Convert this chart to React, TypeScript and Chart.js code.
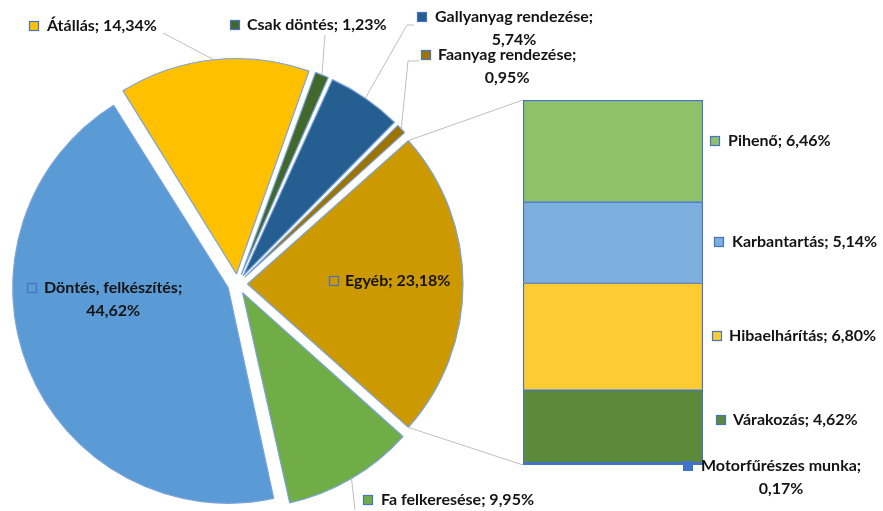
import React, { useEffect, useRef } from "react";
import { Chart, registerables } from "chart.js";

Chart.register(...registerables);

// ---- data ----
const pieCategories = [
  "Egyéb",
  "Fa felkeresése",
  "Döntés, felkészítés",
  "Átállás",
  "Csak döntés",
  "Gallyanyag rendezése",
  "Faanyag rendezése",
];
const pieValues = [23.18, 9.95, 44.62, 14.34, 1.23, 5.74, 0.95];

const barCategories = [
  "Motorfűrészes munka",
  "Várakozás",
  "Hibaelhárítás",
  "Karbantartás",
  "Pihenő",
];
const barValues = [0.17, 4.62, 6.8, 5.14, 6.46];

// ---- styles ----
const pieColors = ["#CC9900", "#70AD47", "#5B9BD5", "#FFC000", "#43682B", "#255E91", "#9E7400"];
const barColors = ["#3F74C8", "#5A8A3A", "#FFCB33", "#7CAFDD", "#8FC16A"];

const W = 883;
const H = 511;
const FONT = "bold 16px Lato";
const TEXT_COLOR = "#141414";
const KEY_BORDER = "#4472C4";
const RADIUS = 215.5;
const EXPLODE = 10; // px each slice is pulled out

// label layout: square position, text start, line centre y, wrap to 2 lines
type LabelPos = { sx: number; sy: number; tx: number; ty: number; wrap: boolean; leader?: number[][] };
const pieLabelPos: LabelPos[] = [
  { sx: 329, sy: 276, tx: 345, ty: 281, wrap: false },
  { sx: 363, sy: 495, tx: 381, ty: 500, wrap: false, leader: [[355, 510]] },
  { sx: 27, sy: 283, tx: 44, ty: 288, wrap: true },
  { sx: 29, sy: 21, tx: 47, ty: 26, wrap: false, leader: [[163, 33]] },
  { sx: 230, sy: 20, tx: 247, ty: 25, wrap: false, leader: [[325, 35]] },
  { sx: 417, sy: 12, tx: 435, ty: 17, wrap: true, leader: [[407, 25], [414, 25]] },
  { sx: 421, sy: 50, tx: 438, ty: 55, wrap: true, leader: [[408, 61], [419, 61]] },
];
const barLabelPos: LabelPos[] = [
  { sx: 683, sy: 461, tx: 701, ty: 466, wrap: true },
  { sx: 716, sy: 415, tx: 733, ty: 420, wrap: false },
  { sx: 712, sy: 331, tx: 729, ty: 336, wrap: false },
  { sx: 714, sy: 237, tx: 732, ty: 242, wrap: false },
  { sx: 710, sy: 136, tx: 728, ty: 141, wrap: false },
];

const fmt = (v: number) => v.toFixed(2).replace(".", ",") + "%";

function drawLabel(ctx: CanvasRenderingContext2D, name: string, value: number, color: string, p: LabelPos, keyBorder: boolean) {
  ctx.save();
  ctx.fillStyle = color;
  ctx.fillRect(p.sx, p.sy, 10, 10);
  if (keyBorder) {
    ctx.strokeStyle = KEY_BORDER;
    ctx.lineWidth = 1.2;
    ctx.strokeRect(p.sx + 0.5, p.sy + 0.5, 9, 9);
  }
  ctx.font = FONT;
  ctx.fillStyle = TEXT_COLOR;
  ctx.textBaseline = "middle";
  ctx.textAlign = "left";
  if (p.wrap) {
    const l1 = name + ";";
    const w1 = ctx.measureText(l1).width;
    ctx.fillText(l1, p.tx, p.ty);
    ctx.textAlign = "center";
    ctx.fillText(fmt(value), p.tx + w1 / 2, p.ty + 23);
  } else {
    ctx.fillText(name + "; " + fmt(value), p.tx, p.ty);
  }
  ctx.restore();
}

export default function App() {
  const pieRef = useRef<HTMLCanvasElement>(null);
  const barRef = useRef<HTMLCanvasElement>(null);

  useEffect(() => {
    const total = pieValues.reduce((a, b) => a + b, 0);
    const rotation = 90 - (pieValues[0] / total) * 180;

    const pieLabelsPlugin = {
      id: "pieLabels",
      beforeDatasetsDraw(chart: any) {
        // keep every exploded slice at the same radius
        chart.getDatasetMeta(0).data.forEach((arc: any) => {
          const fix = 1 - Math.sin(Math.min(Math.PI, arc.circumference || 0));
          arc.outerRadius = RADIUS - EXPLODE * fix;
        });
      },
      afterDatasetsDraw(chart: any) {
        const ctx = chart.ctx as CanvasRenderingContext2D;
        const meta = chart.getDatasetMeta(0);
        meta.data.forEach((arc: any, i: number) => {
          const p = pieLabelPos[i];
          if (p.leader) {
            const mid = (arc.startAngle + arc.endAngle) / 2;
            const r = RADIUS + EXPLODE;
            ctx.save();
            ctx.strokeStyle = "#BFBFBF";
            ctx.lineWidth = 1;
            ctx.beginPath();
            ctx.moveTo(arc.x + r * Math.cos(mid), arc.y + r * Math.sin(mid));
            p.leader.forEach((pt) => ctx.lineTo(pt[0], pt[1]));
            ctx.stroke();
            ctx.restore();
          }
          drawLabel(ctx, pieCategories[i], pieValues[i], pieColors[i], p, true);
        });
      },
    };

    const pie = new Chart(pieRef.current!, {
      type: "pie",
      data: {
        labels: pieCategories,
        datasets: [
          {
            data: pieValues,
            backgroundColor: pieColors,
            borderColor: "#7AA3DD",
            borderWidth: 1.2,
            offset: EXPLODE * 4,
          },
        ],
      },
      options: {
        animation: false,
        responsive: false,
        devicePixelRatio: 1,
        rotation,
        radius: RADIUS,
        layout: { padding: { left: 0, right: 408, top: 57, bottom: 0 } },
        plugins: { legend: { display: false }, tooltip: { enabled: false } },
      } as any,
      plugins: [pieLabelsPlugin],
    });

    const barTotal = barValues.reduce((a, b) => a + b, 0);

    const barLabelsPlugin = {
      id: "barLabels",
      afterDatasetsDraw(chart: any) {
        const ctx = chart.ctx as CanvasRenderingContext2D;
        const area = chart.chartArea;
        // connector lines from the "Egyéb" slice to the bar
        const arc: any = pie.getDatasetMeta(0).data[0];
        const mid = (arc.startAngle + arc.endAngle) / 2;
        const cx = arc.x + EXPLODE * Math.cos(mid);
        const cy = arc.y + EXPLODE * Math.sin(mid);
        const R = RADIUS;
        ctx.save();
        ctx.strokeStyle = "#BFBFBF";
        ctx.lineWidth = 1;
        ctx.beginPath();
        ctx.moveTo(cx + R * Math.cos(arc.startAngle), cy + R * Math.sin(arc.startAngle));
        ctx.lineTo(area.left, area.top);
        ctx.moveTo(cx + R * Math.cos(arc.endAngle), cy + R * Math.sin(arc.endAngle));
        ctx.lineTo(area.left, area.bottom);
        ctx.stroke();
        ctx.restore();
        barCategories.forEach((name, i) => {
          drawLabel(ctx, name, barValues[i], barColors[i], barLabelPos[i], i !== 0);
        });
      },
    };

    const bar = new Chart(barRef.current!, {
      type: "bar",
      data: {
        labels: [""],
        datasets: barCategories.map((name, i) => ({
          label: name,
          data: [barValues[i]],
          backgroundColor: barColors[i],
          borderColor: "#4472C4",
          borderWidth: 1.5,
          barPercentage: 1,
          categoryPercentage: 1,
        })),
      },
      options: {
        animation: false,
        responsive: false,
        devicePixelRatio: 1,
        layout: { padding: { left: 523, right: 180, top: 100, bottom: 46 } },
        scales: {
          x: { stacked: true, display: false },
          y: { stacked: true, display: false, min: 0, max: barTotal },
        },
        plugins: { legend: { display: false }, tooltip: { enabled: false } },
      } as any,
      plugins: [barLabelsPlugin],
    });

    return () => {
      bar.destroy();
      pie.destroy();
    };
  }, []);

  return (
    <div style={{ position: "fixed", left: 0, top: 0, width: W, height: H, background: "#fff" }}>
      <canvas ref={pieRef} width={W} height={H} style={{ position: "absolute", left: 0, top: 0, width: W, height: H }} />
      <canvas ref={barRef} width={W} height={H} style={{ position: "absolute", left: 0, top: 0, width: W, height: H }} />
    </div>
  );
}
